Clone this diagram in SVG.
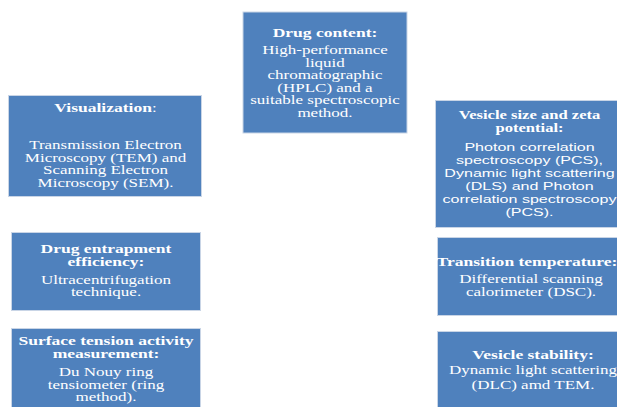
<svg xmlns="http://www.w3.org/2000/svg" width="617" height="407" viewBox="0 0 617 407">
<style>
.box{fill:#4f81bd;stroke:#c9d5e6;stroke-width:1}
.t{font-family:"Liberation Serif","Times New Roman",serif;fill:#ffffff;text-anchor:middle;font-size:12.5px}
.b{font-weight:bold;font-size:12.9px}
.s{font-family:"Liberation Sans",Arial,sans-serif;font-size:11.8px}
.sm{font-size:12.2px}
</style>
<rect width="617" height="407" fill="#ffffff"/>
<g id="connectors"/>
<g id="drug-content">
<rect class="box" x="243" y="12" width="164" height="121"/>
<g transform="translate(325,0) scale(1.36,1)">
<text class="t b" x="0" y="37">Drug content:</text>
<text class="t" x="0" y="54.5">High-performance</text>
<text class="t" x="0" y="67">liquid</text>
<text class="t" x="0" y="79.5">chromatographic</text>
<text class="t" x="0" y="92">(HPLC) and a</text>
<text class="t" x="0" y="104.5">suitable spectroscopic</text>
<text class="t" x="0" y="117.5">method.</text>
</g>
</g>
<g id="visualization">
<rect class="box" x="8.5" y="95.5" width="193" height="101"/>
<g transform="translate(105.5,0) scale(1.36,1)">
<text class="t" x="0" y="112"><tspan class="b">Visualization</tspan>:</text>
<text class="t" x="0" y="149">Transmission Electron</text>
<text class="t" x="0" y="161.7">Microscopy (TEM) and</text>
<text class="t" x="0" y="174.4">Scanning Electron</text>
<text class="t" x="0" y="187">Microscopy (SEM).</text>
</g>
</g>
<g id="drug-entrapment">
<rect class="box" x="11.5" y="232.5" width="189" height="78"/>
<g transform="translate(106,0) scale(1.36,1)">
<text class="t b" x="0" y="253.5">Drug entrapment</text>
<text class="t b" x="0" y="266.5">efficiency:</text>
<text class="t" x="0" y="284">Ultracentrifugation</text>
<text class="t" x="0" y="296.5">technique.</text>
</g>
</g>
<g id="surface-tension">
<rect class="box" x="11.5" y="328.5" width="189" height="85"/>
<g transform="translate(106,0) scale(1.36,1)">
<text class="t b" x="0" y="345">Surface tension activity</text>
<text class="t b" x="0" y="358">measurement:</text>
<text class="t" x="0" y="376">Du Nouy ring</text>
<text class="t" x="0" y="389">tensiometer (ring</text>
<text class="t" x="0" y="401.5">method).</text>
</g>
</g>
<g id="vesicle-size">
<rect class="box" x="435.5" y="100.5" width="200" height="127"/>
<g transform="translate(529.5,0) scale(1.36,1)">
<text class="t b sm" x="0" y="119">Vesicle size and zeta</text>
<text class="t b sm" x="0" y="132">potential:</text>
<text class="t s" x="0" y="151.5">Photon correlation</text>
<text class="t s" x="0" y="164.5">spectroscopy (PCS),</text>
<text class="t s" x="0" y="177.5">Dynamic light scattering</text>
<text class="t s" x="0" y="190.5">(DLS) and Photon</text>
<text class="t s" x="0" y="203.5">correlation spectroscopy</text>
<text class="t s" x="0" y="216.5">(PCS).</text>
</g>
</g>
<g id="transition-temperature">
<rect class="box" x="437.5" y="237.5" width="200" height="78"/>
<g transform="translate(527,0) scale(1.36,1)">
<text class="t b" x="0" y="266">Transition temperature:</text>
</g>
<g transform="translate(531,0) scale(1.36,1)">
<text class="t" x="0" y="283">Differential scanning</text>
<text class="t" x="0" y="296">calorimeter (DSC).</text>
</g>
</g>
<g id="vesicle-stability">
<rect class="box" x="437.5" y="331.5" width="200" height="85"/>
<g transform="translate(533,0) scale(1.36,1)">
<text class="t b" x="0" y="359">Vesicle stability:</text>
<text class="t" x="0" y="374">Dynamic light scattering</text>
<text class="t" x="0" y="389">(DLC) amd TEM.</text>
</g>
</g>
</svg>
